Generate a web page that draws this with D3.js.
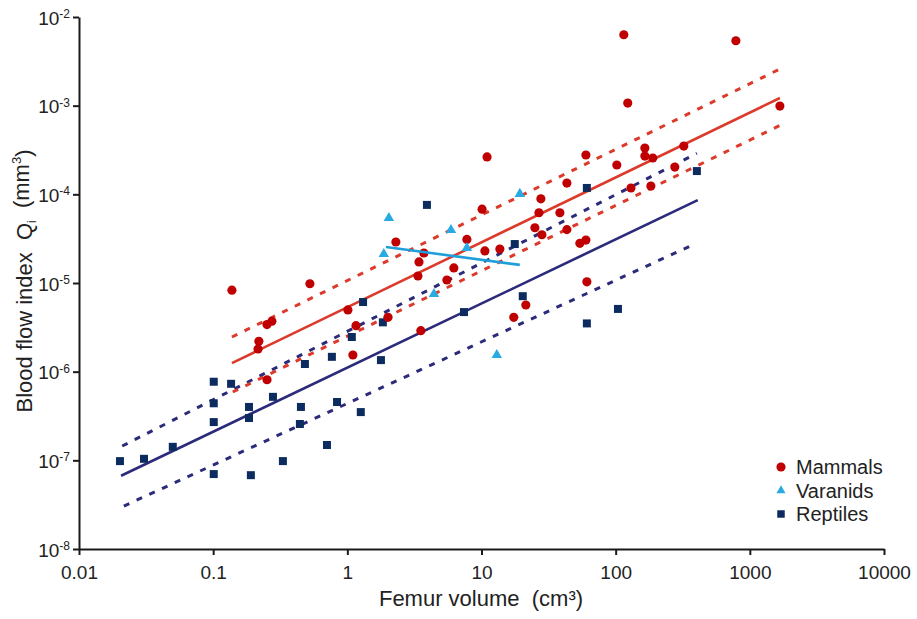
<!DOCTYPE html>
<html>
<head>
<meta charset="utf-8">
<script src="https://cdn.jsdelivr.net/npm/d3@7"></script>
<style>
    body { margin: 0; background: #fff; }
    svg { display: block; font-family: "Liberation Sans", Arial, sans-serif; }
    .axis path, .axis line { stroke: #1a1a1a; stroke-width: 2; }
    .axis text { fill: #222; font-size: 19px; font-family: "Liberation Sans", Arial, sans-serif; }
    .title { fill: #222; font-size: 22px; }
    .legend-text { fill: #222; font-size: 20px; }
</style>
</head>
<body>
<svg id="chart" width="917" height="619"></svg>
<script>

// Data ////////////////////////////////////////

// [femur volume (cm3), blood flow index Qi (mm3)]
const mammals = [
    [0.138, 8.3e-6], [0.526, 9.8e-6], [0.252, 3.4e-6], [0.274, 3.7e-6],
    [0.219, 2.2e-6], [0.216, 1.8e-6], [0.252, 8.1e-7], [1.01, 4.97e-6],
    [1.16, 3.3e-6], [1.10, 1.54e-6], [2.01, 4.1e-6], [2.30, 2.9e-5],
    [3.72, 2.18e-5], [3.42, 1.73e-5], [3.36, 1.2e-5], [5.52, 1.08e-5],
    [6.22, 1.48e-5], [7.78, 3.1e-5], [10.1, 6.8e-5], [10.6, 2.3e-5],
    [13.7, 2.42e-5], [27.7, 8.9e-5], [26.8, 6.2e-5], [25.0, 4.2e-5],
    [28.2, 3.5e-5], [38.4, 6.2e-5], [43.3, 4.0e-5], [43.3, 1.34e-4],
    [54.1, 2.8e-5], [60, 3.05e-5], [61, 1.03e-5], [21.4, 5.65e-6],
    [17.4, 4.1e-6], [3.53, 2.9e-6], [11.0, 2.64e-4], [60, 2.78e-4],
    [102, 2.14e-4], [165, 3.33e-4], [165, 2.7e-4], [189, 2.57e-4],
    [322, 3.5e-4], [276, 2.03e-4], [130, 1.18e-4], [183, 1.24e-4],
    [115, 6.3e-3], [787, 5.4e-3], [123, 1.07e-3], [1675, 9.9e-4]
];

const varanids = [
    [2.04, 5.4e-5], [1.87, 2.12e-5], [5.92, 3.96e-5], [7.78, 2.48e-5],
    [19.3, 1.01e-4], [4.42, 7.5e-6], [13.0, 1.54e-6]
];

const reptiles = [
    [1.31, 6.1e-6], [1.84, 3.6e-6], [1.08, 2.46e-6], [0.767, 1.47e-6],
    [0.483, 1.22e-6], [0.101, 7.7e-7], [0.136, 7.3e-7], [0.101, 4.4e-7],
    [0.185, 4.0e-7], [0.279, 5.2e-7], [0.101, 2.7e-7], [0.185, 3.0e-7],
    [0.451, 4.0e-7], [0.838, 4.55e-7], [1.78, 1.35e-6], [0.443, 2.57e-7],
    [1.26, 3.5e-7], [0.050, 1.42e-7], [0.0305, 1.04e-7], [0.0202, 9.8e-8],
    [0.705, 1.49e-7], [0.331, 9.8e-8], [0.101, 7.0e-8], [0.191, 6.8e-8],
    [3.92, 7.6e-5], [61, 1.18e-4], [17.7, 2.75e-5], [20.3, 7.1e-6],
    [7.40, 4.7e-6], [61, 3.5e-6], [104, 5.1e-6], [403, 1.83e-4]
];

// regression lines and confidence bounds (end points)
const mammalFit = [[0.138, 1.25e-6], [1675, 1.22e-3]];
const mammalUpper = [[0.138, 2.46e-6], [1675, 2.59e-3]];
const mammalLower = [[0.14, 5.9e-7], [1700, 6.05e-4]];
const reptileFit = [[0.0206, 6.7e-8], [409, 8.6e-5]];
const reptileUpper = [[0.021, 1.45e-7], [403, 2.9e-4]];
const reptileLower = [[0.0216, 3.05e-8], [357, 2.6e-5]];
const varanidFit = [[1.94, 2.55e-5], [19.3, 1.6e-5]];

const xTicks = [0.01, 0.1, 1, 10, 100, 1000, 10000];
const xTickLabels = ["0.01", "0.1", "1", "10", "100", "1000", "10000"];
const yExponents = [-2, -3, -4, -5, -6, -7, -8];

const legendItems = ["Mammals", "Varanids", "Reptiles"];

// Setup ///////////////////////////////////////

const colors = {
    mammalDot: "#c00000",
    mammalLine: "#dc3b2c",
    varanidDot: "#29aae2",
    varanidLine: "#1f9fd9",
    reptileDot: "#0c2b5e",
    reptileLine: "#2c2a7a"
};

const svg = d3.select("#chart");

const x = d3.scaleLog()
    .domain([0.01, 10000])
    .range([79, 884]);

const y = d3.scaleLog()
    .domain([1e-8, 1e-2])
    .range([549, 17]);

// Axes ////////////////////////////////////////

const xAxis = svg.append("g")
    .attr("class", "axis")
    .attr("transform", `translate(0, ${y(1e-8)})`)
    .call(d3.axisBottom(x)
        .tickValues(xTicks)
        .tickFormat((d, i) => xTickLabels[i])
        .tickSizeInner(6)
        .tickSizeOuter(0)
        .tickPadding(10));
xAxis.selectAll("text").attr("dy", "0.72em");

const yAxis = svg.append("g")
    .attr("class", "axis")
    .attr("transform", `translate(${x(0.01)}, 0)`)
    .call(d3.axisLeft(y)
        .tickValues(yExponents.map(e => Math.pow(10, e)))
        .tickFormat("")
        .tickSizeInner(6)
        .tickSizeOuter(0));

const yLabels = yAxis.selectAll(".tick")
    .data(yExponents)
    .append("text")
    .attr("x", -9)
    .attr("dy", "0.38em")
    .attr("text-anchor", "end");
yLabels.append("tspan").text("10");
yLabels.append("tspan")
    .attr("dy", "-0.55em")
    .style("font-size", "12px")
    .text(d => d);

// Titles //////////////////////////////////////

svg.append("text")
    .attr("class", "title")
    .attr("x", 481)
    .attr("y", 606)
    .attr("text-anchor", "middle")
    .text("Femur volume\u00a0\u00a0(cm³)");

const yTitle = svg.append("text")
    .attr("class", "title")
    .attr("transform", "translate(32, 281) rotate(-90)")
    .attr("text-anchor", "middle");
yTitle.append("tspan").text("Blood flow index\u00a0\u00a0Q");
yTitle.append("tspan").attr("dy", "0.3em").style("font-size", "12px").text("i");
yTitle.append("tspan").attr("dy", "-0.3em").text("\u00a0\u00a0(mm");
yTitle.append("tspan").attr("dy", "-0.6em").style("font-size", "13px").text("3");
yTitle.append("tspan").attr("dy", "0.45em").text(")");

// Fit lines ///////////////////////////////////

const line = d3.line()
    .x(d => x(d[0]))
    .y(d => y(d[1]));

const fits = [
    { data: reptileUpper, color: colors.reptileLine, dash: true },
    { data: reptileLower, color: colors.reptileLine, dash: true },
    { data: reptileFit, color: colors.reptileLine, dash: false },
    { data: mammalUpper, color: colors.mammalLine, dash: true },
    { data: mammalLower, color: colors.mammalLine, dash: true },
    { data: mammalFit, color: colors.mammalLine, dash: false }
];

svg.append("g")
    .selectAll("path")
    .data(fits)
    .join("path")
    .attr("d", d => line(d.data))
    .attr("fill", "none")
    .attr("stroke", d => d.color)
    .attr("stroke-width", d => d.dash ? 3 : 2.6)
    .attr("stroke-dasharray", d => d.dash ? "6,8" : null);

// Points //////////////////////////////////////

const symbolCircle = d3.symbol(d3.symbolCircle, 66)();
const symbolSquare = d3.symbol(d3.symbolSquare, 64)();
const symbolTriangle = d3.symbol(d3.symbolTriangle, 48)();

svg.append("g")
    .selectAll("path")
    .data(reptiles)
    .join("path")
    .attr("d", symbolSquare)
    .attr("transform", d => `translate(${x(d[0])}, ${y(d[1])})`)
    .attr("fill", colors.reptileDot);

svg.append("g")
    .selectAll("path")
    .data(mammals)
    .join("path")
    .attr("d", symbolCircle)
    .attr("transform", d => `translate(${x(d[0])}, ${y(d[1])})`)
    .attr("fill", colors.mammalDot);

svg.append("g")
    .selectAll("path")
    .data(varanids)
    .join("path")
    .attr("d", symbolTriangle)
    .attr("transform", d => `translate(${x(d[0])}, ${y(d[1])})`)
    .attr("fill", colors.varanidDot);

svg.append("path")
    .attr("d", line(varanidFit))
    .attr("fill", "none")
    .attr("stroke", colors.varanidLine)
    .attr("stroke-width", 2.6);

// Legend //////////////////////////////////////

const legendSymbols = [
    { shape: symbolCircle, color: colors.mammalDot },
    { shape: d3.symbol(d3.symbolTriangle, 36)(), color: colors.varanidDot },
    { shape: d3.symbol(d3.symbolSquare, 56)(), color: colors.reptileDot }
];

const legend = svg.append("g")
    .attr("transform", "translate(781, 467)");

const legendRows = legend.selectAll("g")
    .data(legendItems)
    .join("g")
    .attr("transform", (d, i) => `translate(0, ${i * 23.5})`);

legendRows.append("path")
    .attr("d", (d, i) => legendSymbols[i].shape)
    .attr("fill", (d, i) => legendSymbols[i].color);

legendRows.append("text")
    .attr("class", "legend-text")
    .attr("x", 15)
    .attr("dy", "0.36em")
    .text(d => d);

</script>
</body>
</html>
